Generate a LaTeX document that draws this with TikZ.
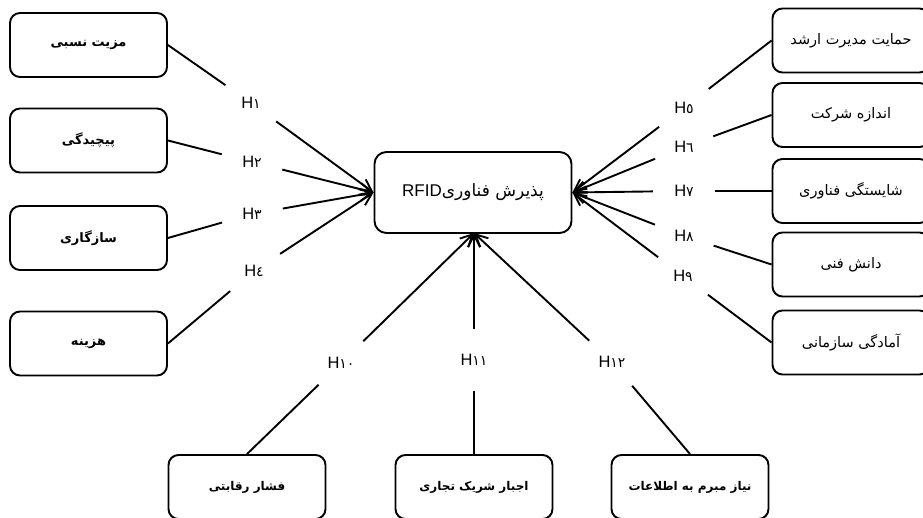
\documentclass[tikz,border=0pt]{standalone}
\usepackage{fontspec}
\setmainfont{Liberation Sans}
\newfontfamily\arfont[Script=Arabic]{DejaVu Sans}
\TeXXeTstate=1
\usetikzlibrary{arrows.meta}
\newcommand{\hlab}[1]{H{\arfont\fontsize{14pt}{16pt}\selectfont #1}}
\newcommand{\fa}[1]{\beginR #1\endR}
\begin{document}
\begin{tikzpicture}[x=1pt,y=-1pt,
  box/.style={draw, line width=1.9pt, rounded corners=10pt, minimum width=157pt, minimum height=64pt, inner sep=0pt, font=\arfont\fontsize{14.5pt}{16pt}\selectfont},
  boxb/.style={box, font=\arfont\bfseries\fontsize{13pt}{15pt}\selectfont},
  boxc/.style={box, font=\arfont\bfseries\fontsize{12pt}{14pt}\selectfont},
  centerbox/.style={draw, line width=1.9pt, rounded corners=12pt, minimum width=197pt, minimum height=81pt, inner sep=0pt, font=\fontsize{17pt}{20pt}\selectfont},
  lbl/.style={circle, minimum size=62pt, inner sep=0pt, font=\fontsize{16.5pt}{18pt}\selectfont},
  conn/.style={line width=1.9pt},
  arr/.style={conn, -{Straight Barb[length=12pt, width=12pt, line width=1.9pt]}}
]
\useasboundingbox (0,0) rectangle (923,518);
\fill[white] (0,0) rectangle (923,518);

% centre
\node[centerbox] (c) at (473,192.5) {\beginR{\arfont\fontsize{17pt}{20pt}\selectfont پذیرش فناوری}\beginL RFID\endL\endR};

% left boxes
\node[boxb] (b1) at (88.5,45) {\fa{مزیت نسبی}};
\node[boxb] (b2) at (88.5,140.5) {\fa{پیچیدگی}};
\node[boxb] (b3) at (88.5,238) {\fa{سازگاری}};
\node[boxb] (b4) at (88.5,343.5) {\fa{هزینه}};

% right boxes
\node[box] (b5) at (851,40.5) {\fa{حمایت مدیرت ارشد}};
\node[box] (b6) at (851,115) {\fa{اندازه شرکت}};
\node[box] (b7) at (851,191) {\fa{شایستگی فناوری}};
\node[box] (b8) at (851,264.5) {\fa{دانش فنی}};
\node[box] (b9) at (851,342.5) {\fa{آمادگی سازمانی}};

% bottom boxes
\node[boxc] (b10) at (247,487) {\fa{فشار رقابتی}};
\node[boxc] (b11) at (474,487) {\fa{اجبار شریک تجاری}};
\node[boxc] (b12) at (690,487) {\fa{نیاز مبرم به اطلاعات}};

% labels
\node[lbl] (h1) at (251,103) {\hlab{١}};
\node[lbl] (h2) at (252,162) {\hlab{٢}};
\node[lbl] (h3) at (252,214) {\hlab{٣}};
\node[lbl] (h4) at (254,271) {\hlab{٤}};
\node[lbl] (h5) at (684,108) {\hlab{٥}};
\node[lbl] (h6) at (684,147) {\hlab{٦}};
\node[lbl] (h7) at (684,191) {\hlab{٧}};
\node[lbl] (h8) at (684,236) {\hlab{٨}};
\node[lbl] (h9) at (683,276) {\hlab{٩}};
\node[lbl] (h10) at (341,363) {\hlab{١٠}};
\node[lbl] (h11) at (474,360) {\hlab{١١}};
\node[lbl] (h12) at (612,362) {\hlab{١٢}};

% connectors
\foreach \i in {1,2,3,4}{
  \draw[conn] (b\i.east) -- (h\i);
  \draw[arr] (h\i) -- (c.west);
}
\foreach \i in {5,6,7,8,9}{
  \draw[conn] (b\i.west) -- (h\i);
  \draw[arr] (h\i) -- (c.east);
}
\coordinate (cs) at (474,233);
\foreach \i in {10,11,12}{
  \draw[conn] (b\i.north) -- (h\i);
  \draw[arr] (h\i) -- (cs);
}
\end{tikzpicture}
\end{document}
